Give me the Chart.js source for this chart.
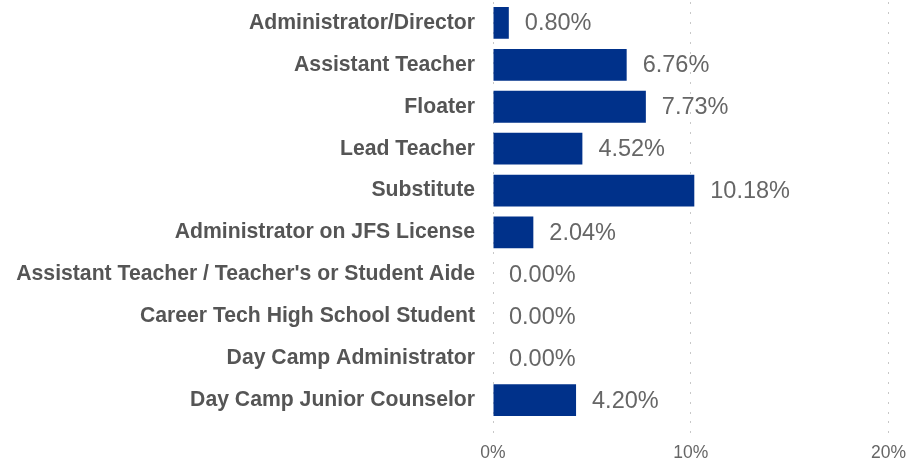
<!DOCTYPE html>
<html>
<head>
<meta charset="utf-8">
<script src="https://cdn.jsdelivr.net/npm/chart.js@4"></script>
<style>
  html, body { margin: 0; padding: 0; background: #fff; }
  .chart-container { width: 912px; height: 466px; position: relative; }
</style>
</head>
<body>
<div class="chart-container"><canvas id="roleChart"></canvas></div>
<script>
const roles = [
    "Administrator/Director",
    "Assistant Teacher",
    "Floater",
    "Lead Teacher",
    "Substitute",
    "Administrator on JFS License",
    "Assistant Teacher / Teacher's or Student Aide",
    "Career Tech High School Student",
    "Day Camp Administrator",
    "Day Camp Junior Counselor"
];
const rates = [0.80, 6.76, 7.73, 4.52, 10.18, 2.04, 0.00, 0.00, 0.00, 4.20];
const xTicks = [0, 10, 20];

const fontFamily = "Arial, 'Liberation Sans', Helvetica, sans-serif";

// draws the value text to the right of each bar
const valueLabels = {
    id: "valueLabels",
    afterDatasetsDraw(chart) {
        const ctx = chart.ctx;
        const meta = chart.getDatasetMeta(0);
        ctx.save();
        ctx.font = "23.5px " + fontFamily;
        ctx.fillStyle = "#666666";
        ctx.textAlign = "left";
        ctx.textBaseline = "middle";
        meta.data.forEach((bar, i) => {
            ctx.fillText(rates[i].toFixed(2) + "%", bar.x + 16, bar.y + 1);
        });
        ctx.restore();
    }
};

let ctx = document.getElementById("roleChart").getContext("2d");

window.roleChart = new Chart(ctx, {
    type: "bar",
    data: {
        labels: roles,
        datasets: [
            {
                label: "",
                data: rates,
                backgroundColor: "#00318a",
                borderWidth: 0,
                categoryPercentage: 1,
                barPercentage: 0.76,
            },
        ],
    },
    plugins: [valueLabels],
    options: {
        indexAxis: "y",
        responsive: true,
        maintainAspectRatio: false,
        animation: false,
        layout: {
            padding: { top: 2, right: 22, left: 0, bottom: 0 },
        },
        scales: {
            x: {
                min: 0,
                max: 20,
                afterBuildTicks: (scale) => {
                    scale.ticks = xTicks.map((v) => ({ value: v }));
                },
                afterFit: (scale) => {
                    scale.height = 45;
                },
                border: { display: false, dash: [2, 8] },
                grid: {
                    color: "#c8c8c8",
                    lineWidth: 1,
                    drawTicks: true,
                    tickLength: 16,
                    tickColor: "#c8c8c8",
                    tickBorderDash: [2, 8],
                },
                ticks: {
                    color: "#666666",
                    padding: 6,
                    font: { family: fontFamily, size: 17.5 },
                    callback: (v) => v + "%",
                },
            },
            y: {
                afterFit: (scale) => {
                    scale.width = 493;
                    scale.paddingTop = 0;
                    scale.paddingBottom = 0;
                },
                border: { display: false },
                grid: { display: false, drawTicks: false },
                ticks: {
                    color: "#555555",
                    padding: 18,
                    font: { family: fontFamily, size: 21.2, weight: "bold" },
                },
            },
        },
        plugins: {
            legend: { display: false },
            tooltip: { enabled: false },
            title: { display: false },
        },
    },
});
</script>
</body>
</html>
